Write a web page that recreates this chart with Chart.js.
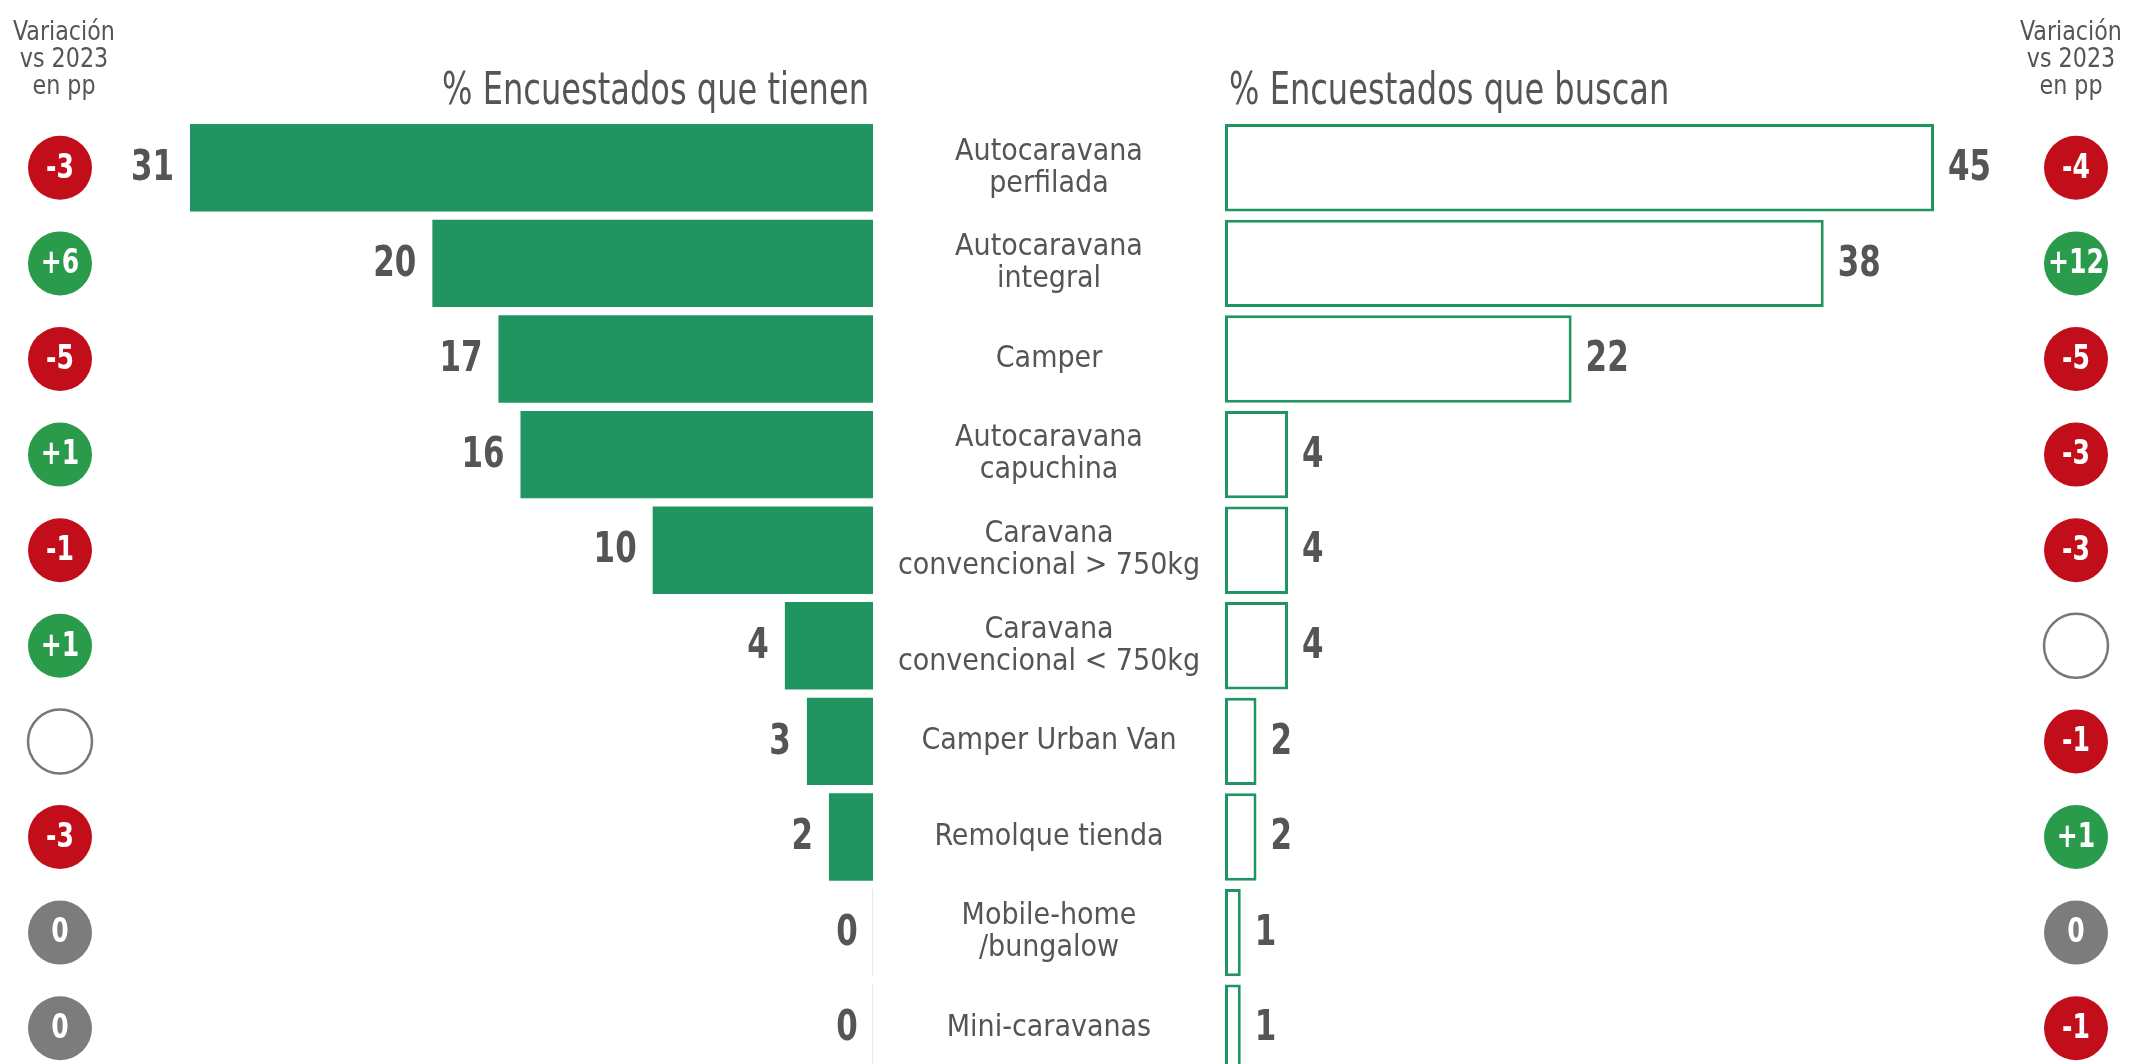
<!DOCTYPE html>
<html>
<head>
<meta charset="utf-8">
<script src="https://cdn.jsdelivr.net/npm/chart.js@4"></script>
<style>
  html, body { margin: 0; padding: 0; background: #fff; }
  body { width: 2142px; height: 1064px; overflow: hidden; position: relative; }
  .lienzo { position: absolute; top: 0; }
  #caja-tienen { left: 0; width: 1225px; height: 1100px; }
  #caja-buscan { left: 1225px; width: 917px; height: 1100px; }
</style>
</head>
<body>
<div class="lienzo" id="caja-tienen"><canvas id="grafico-tienen"></canvas></div>
<div class="lienzo" id="caja-buscan"><canvas id="grafico-buscan"></canvas></div>
<script>
const categorias = [
  ["Autocaravana", "perfilada"],
  ["Autocaravana", "integral"],
  ["Camper"],
  ["Autocaravana", "capuchina"],
  ["Caravana", "convencional > 750kg"],
  ["Caravana", "convencional < 750kg"],
  ["Camper Urban Van"],
  ["Remolque tienda"],
  ["Mobile-home", "/bungalow"],
  ["Mini-caravanas"]
];

const tienen = [31, 20, 17, 16, 10, 4, 3, 2, 0, 0];
const buscan = [45, 38, 22, 4, 4, 4, 2, 2, 1, 1];

// variacion vs 2023 en pp (null = sin dato, circulo vacio)
const varTienen = [-3, 6, -5, 1, -1, 1, null, -3, 0, 0];
const varBuscan = [-4, 12, -5, -3, -3, null, -1, 1, 0, -1];

const tituloTienen = "% Encuestados que tienen";
const tituloBuscan = "% Encuestados que buscan";
const tituloVariacion = ["Variación", "vs 2023", "en pp"];

const fuente = "'Liberation Sans Narrow', 'DejaVu Sans Condensed', sans-serif";
const verde = "#219561";
const gris = "#555555";

function textoVariacion(v) {
  if (v === null) return "";
  return v > 0 ? `+${v}` : `${v}`;
}

// texto estrechado en horizontal (la fuente original es condensada)
function textoEstrecho(ctx, txt, x, y, escala) {
  ctx.save();
  ctx.translate(x, y);
  ctx.scale(escala, 1);
  ctx.fillText(txt, 0, 0);
  ctx.restore();
}

function dibujarCirculo(ctx, x, y, v) {
  ctx.save();
  ctx.beginPath();
  ctx.arc(x, y, 32, 0, Math.PI * 2);
  if (v === null) {
    ctx.fillStyle = "#fff";
    ctx.fill();
    ctx.lineWidth = 2.5;
    ctx.strokeStyle = "#777";
    ctx.stroke();
  } else {
    ctx.fillStyle = v > 0 ? "#2a9a4b" : (v < 0 ? "#c20e1b" : "#7b7c7b");
    ctx.fill();
    ctx.fillStyle = "#fff";
    ctx.font = `bold 34px ${fuente}`;
    ctx.textAlign = "center";
    ctx.textBaseline = "middle";
    textoEstrecho(ctx, textoVariacion(v), x, y + 1, 0.82);
  }
  ctx.restore();
}

function dibujarVariacionTitulo(ctx, x) {
  ctx.save();
  ctx.fillStyle = gris;
  ctx.font = `26px ${fuente}`;
  ctx.textAlign = "center";
  ctx.textBaseline = "alphabetic";
  tituloVariacion.forEach((linea, i) => textoEstrecho(ctx, linea, x, 40 + i * 27, 0.95));
  ctx.restore();
}

// etiquetas, circulos y titulos del lado izquierdo
const extrasTienen = {
  id: "extrasTienen",
  afterDatasetsDraw(chart) {
    const ctx = chart.ctx;
    const area = chart.chartArea;
    const meta = chart.getDatasetMeta(0);
    const y = chart.scales.y;

    ctx.save();
    ctx.fillStyle = gris;
    ctx.font = `44px ${fuente}`;
    ctx.textAlign = "right";
    ctx.textBaseline = "alphabetic";
    textoEstrecho(ctx, tituloTienen, area.right - 4, 104, 0.81);
    ctx.restore();

    dibujarVariacionTitulo(ctx, 64);

    meta.data.forEach((barra, i) => {
      ctx.save();
      ctx.fillStyle = gris;
      ctx.font = `bold 43px ${fuente}`;
      ctx.textAlign = "right";
      ctx.textBaseline = "middle";
      textoEstrecho(ctx, String(tienen[i]), barra.x - 16, barra.y + 1, 0.8);

      // categoria en el centro
      const lineas = categorias[i];
      ctx.font = `30px ${fuente}`;
      ctx.textAlign = "center";
      const centroX = area.right + 176;
      const y0 = y.getPixelForValue(i) - (lineas.length - 1) * 16;
      lineas.forEach((l, k) => ctx.fillText(l, centroX, y0 + k * 32));
      ctx.restore();

      dibujarCirculo(ctx, 60, barra.y, varTienen[i]);
    });
  }
};

const extrasBuscan = {
  id: "extrasBuscan",
  afterDatasetsDraw(chart) {
    const ctx = chart.ctx;
    const area = chart.chartArea;
    const meta = chart.getDatasetMeta(0);

    ctx.save();
    ctx.fillStyle = gris;
    ctx.font = `44px ${fuente}`;
    ctx.textAlign = "left";
    ctx.textBaseline = "alphabetic";
    textoEstrecho(ctx, tituloBuscan, area.left + 4, 104, 0.81);
    ctx.restore();

    dibujarVariacionTitulo(ctx, 846);

    meta.data.forEach((barra, i) => {
      ctx.save();
      ctx.fillStyle = gris;
      ctx.font = `bold 43px ${fuente}`;
      ctx.textAlign = "left";
      ctx.textBaseline = "middle";
      textoEstrecho(ctx, String(buscan[i]), barra.x + 14, barra.y + 1, 0.8);
      ctx.restore();

      dibujarCirculo(ctx, 851, barra.y, varBuscan[i]);
    });
  }
};

const grafTienen = new Chart(document.getElementById("grafico-tienen"), {
  type: "bar",
  data: {
    labels: categorias,
    datasets: [{
      label: tituloTienen,
      data: tienen,
      backgroundColor: (c) => c.raw === 0 ? "#d5e4dc" : verde,
      borderWidth: 0,
      minBarLength: 1.5,
      categoryPercentage: 1,
      barPercentage: 0.914
    }]
  },
  options: {
    indexAxis: "y",
    responsive: true,
    maintainAspectRatio: false,
    animation: false,
    layout: { padding: { left: 190, right: 352, top: 120, bottom: 24 } },
    plugins: { legend: { display: false }, tooltip: { enabled: false } },
    scales: {
      x: { display: false, reverse: true, min: 0, max: 31 },
      y: { display: false }
    }
  },
  plugins: [extrasTienen]
});

const grafBuscan = new Chart(document.getElementById("grafico-buscan"), {
  type: "bar",
  data: {
    labels: categorias,
    datasets: [{
      label: tituloBuscan,
      data: buscan,
      backgroundColor: "#fff",
      borderColor: verde,
      borderWidth: 3,
      borderSkipped: false,
      categoryPercentage: 1,
      barPercentage: 0.914
    }]
  },
  options: {
    indexAxis: "y",
    responsive: true,
    maintainAspectRatio: false,
    animation: false,
    layout: { padding: { left: 0, right: 208, top: 120, bottom: 24 } },
    plugins: { legend: { display: false }, tooltip: { enabled: false } },
    scales: {
      x: { display: false, min: 0, max: 45 },
      y: { display: false }
    }
  },
  plugins: [extrasBuscan]
});
</script>
</body>
</html>
